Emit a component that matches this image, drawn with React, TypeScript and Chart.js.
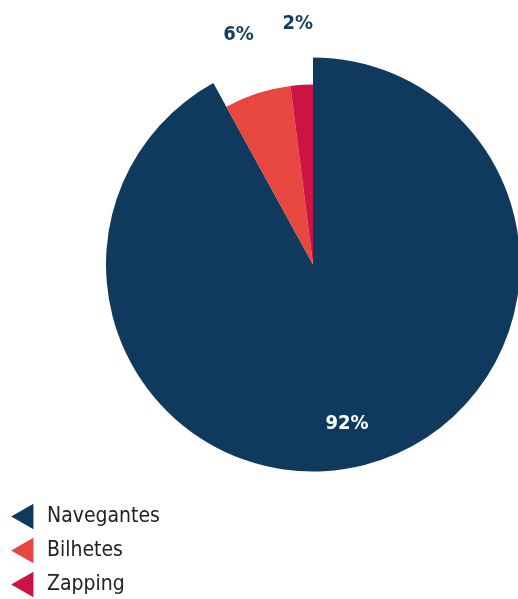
import React, { useEffect, useRef } from 'react';
import { Chart, registerables } from 'chart.js';

Chart.register(...registerables);

const categories = ['Navegantes', 'Bilhetes', 'Zapping'];
const values = [92, 6, 2];
const colors = ['#0f3a5e', '#e8473f', '#cc1444'];
const labelColors = ['#ffffff', '#173d5e', '#173d5e'];

const FONT = '"Liberation Sans Narrow", "DejaVu Sans Condensed", "Noto Sans", sans-serif';
const LEGEND_SIZE = 21;
const LEGEND_PAD = 13;
const CENTER_X = 313;

const bigSlicePlugin = {
  id: 'bigSlice',
  beforeDatasetsDraw(chart: any) {
    const meta = chart.getDatasetMeta(0);
    const arc = meta.data[0];
    if (arc) arc.outerRadius = 207;
  },
};

const pctLabelPlugin = {
  id: 'pctLabels',
  afterDatasetsDraw(chart: any) {
    const meta = chart.getDatasetMeta(0);
    const ctx = chart.ctx;
    ctx.save();
    ctx.font = `bold 20px ${FONT}`;
    ctx.textAlign = 'center';
    ctx.textBaseline = 'middle';
    meta.data.forEach((arc: any, i: number) => {
      const { x, y, startAngle, endAngle, outerRadius } = arc.getProps(
        ['x', 'y', 'startAngle', 'endAngle', 'outerRadius'],
        true
      );
      const mid = (startAngle + endAngle) / 2 + (i === 0 ? 0.04 : 0);
      const r = i === 0 ? outerRadius * 0.785 : outerRadius + 61;
      ctx.fillStyle = labelColors[i];
      ctx.fillText(values[i] + '%', x + Math.cos(mid) * r, y + Math.sin(mid) * r);
    });
    ctx.restore();
  },
};

export default function App() {
  const ref = useRef<HTMLCanvasElement | null>(null);

  useEffect(() => {
    document.body.style.margin = '0';
    if (!ref.current) return;
    const mctx = document.createElement('canvas').getContext('2d')!;
    mctx.font = `normal ${LEGEND_SIZE}px ${FONT}`;
    const textW = Math.max(...categories.map((c) => mctx.measureText(c).width));
    const padLeft = 2.5;
    const legendW = LEGEND_PAD + LEGEND_SIZE + LEGEND_SIZE / 2 + textW + 10;
    const areaLeft = padLeft + legendW;
    const areaRight = 2 * CENTER_X - areaLeft;
    const padRight = 518 - areaRight;

    const chart = new Chart(ref.current, {
      type: 'pie',
      data: {
        labels: categories,
        datasets: [
          {
            data: values,
            backgroundColor: colors,
            borderWidth: 0,
            radius: 180,
            clip: false,
          } as any,
        ],
      },
      options: {
        animation: false,
        responsive: false,
        layout: {
          padding: { top: 0, bottom: -9, left: padLeft, right: padRight },
        },
        plugins: {
          tooltip: { enabled: false },
          title: {
            display: true,
            position: 'bottom',
            fullSize: false,
            text: '',
            font: { size: 10, lineHeight: 1 },
            padding: { top: 0, bottom: 69 },
          },
          legend: {
            position: 'left',
            align: 'end',
            labels: {
              usePointStyle: true,
              boxHeight: LEGEND_SIZE,
              boxWidth: LEGEND_SIZE,
              padding: LEGEND_PAD,
              color: '#222222',
              font: { family: FONT, size: LEGEND_SIZE },
              generateLabels: () =>
                categories.map((c, i) => ({
                  text: c,
                  fillStyle: colors[i],
                  strokeStyle: colors[i],
                  lineWidth: 0,
                  pointStyle: 'triangle',
                  rotation: -90,
                  hidden: false,
                  index: i,
                  fontColor: '#222222',
                })),
            },
          },
        },
      } as any,
      plugins: [bigSlicePlugin, pctLabelPlugin],
    });
    return () => chart.destroy();
  }, []);

  return (
    <div style={{ width: 518, height: 599, overflow: 'hidden' }}>
      <canvas ref={ref} width={518} height={599} style={{ display: 'block' }} />
    </div>
  );
}
